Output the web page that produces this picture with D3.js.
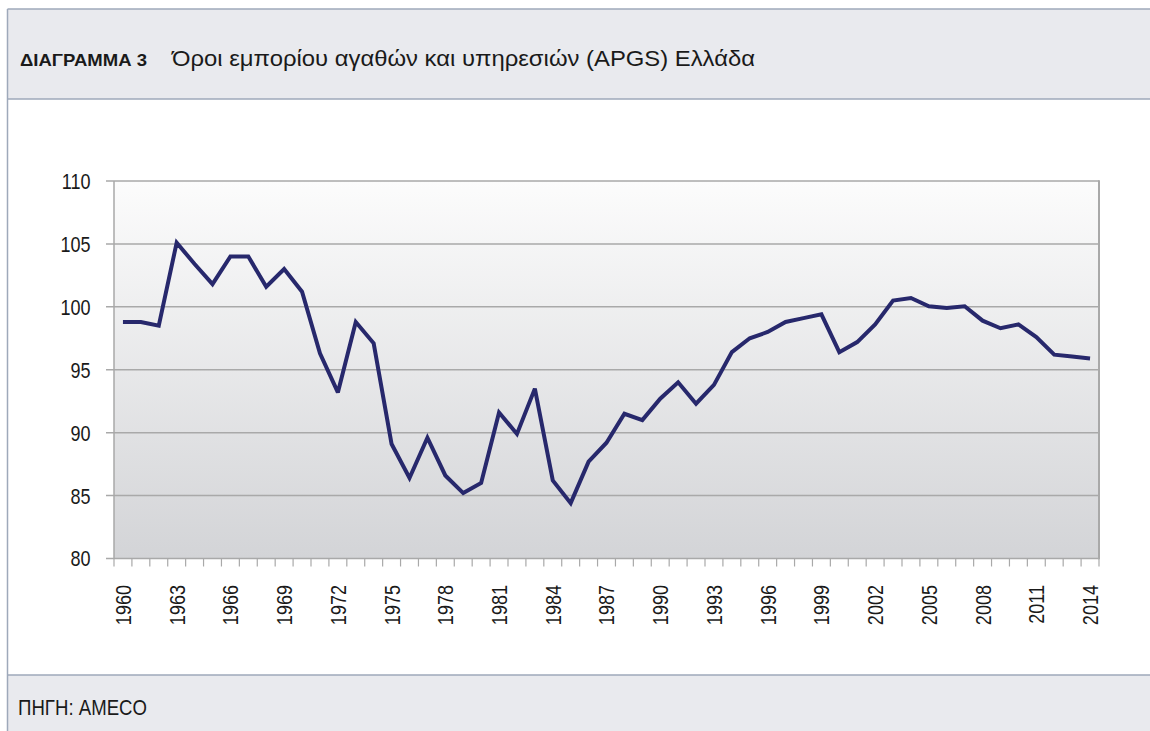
<!DOCTYPE html>
<html>
<head>
<meta charset="utf-8">
<script src="https://cdn.jsdelivr.net/npm/d3@7"></script>
<style>
  html, body { margin: 0; padding: 0; background: #ffffff; }
  svg { display: block; }
  text { font-family: "Liberation Sans", Arial, sans-serif; fill: #1a1a1a; }
</style>
</head>
<body>
<svg id="chart" width="1150" height="731"></svg>
<script>
const years = d3.range(1960, 2015);
const values = [
  98.8, 98.8, 98.5, 105.1, 103.4, 101.8, 104.0, 104.0, 101.6, 103.0,
  101.2, 96.3, 93.2, 98.8, 97.1, 89.1, 86.4, 89.6, 86.6, 85.2,
  86.0, 91.6, 89.9, 93.5, 86.2, 84.4, 87.7, 89.2, 91.5, 91.0,
  92.7, 94.0, 92.3, 93.8, 96.4, 97.5, 98.0, 98.8, 99.1, 99.4,
  96.4, 97.2, 98.6, 100.5, 100.7, 100.05, 99.9, 100.05, 98.9, 98.3,
  98.6, 97.6, 96.2, 96.05, 95.9
];
const yTicks = [80, 85, 90, 95, 100, 105, 110];
const labelYears = years.filter(y => (y - 1960) % 3 === 0);
const titleBold = "ΔΙΑΓΡΑΜΜΑ 3";
const titleText = "Όροι εμπορίου αγαθών και υπηρεσιών (APGS) Ελλάδα";
const sourceText = "ΠΗΓΗ: AMECO";

(function () {
const svg = d3.select("#chart");
const W = 1150, H = 731;
const narrow = 0.82;

// Header / footer panels
const frameX = 7.5;
svg.append("rect").attr("x", frameX).attr("y", 9).attr("width", W - frameX).attr("height", 90)
  .attr("fill", "#e9eaee");
svg.append("line").attr("x1", frameX).attr("x2", W).attr("y1", 9).attr("y2", 9)
  .attr("stroke", "#9ea9ba").attr("stroke-width", 1.5);
svg.append("line").attr("x1", frameX).attr("x2", W).attr("y1", 99).attr("y2", 99)
  .attr("stroke", "#9ea9ba").attr("stroke-width", 1.5);
svg.append("rect").attr("x", frameX).attr("y", 675).attr("width", W - frameX).attr("height", H - 675)
  .attr("fill", "#e9eaee");
svg.append("line").attr("x1", frameX).attr("x2", W).attr("y1", 675).attr("y2", 675)
  .attr("stroke", "#9ea9ba").attr("stroke-width", 1.5);
svg.append("line").attr("x1", frameX).attr("x2", frameX).attr("y1", 9).attr("y2", H)
  .attr("stroke", "#9ea9ba").attr("stroke-width", 1.5);

svg.append("text").attr("x", 20).attr("y", 66).attr("font-size", 16.5).attr("font-weight", "bold")
  .attr("textLength", 127).attr("lengthAdjust", "spacingAndGlyphs").text(titleBold);
svg.append("text").attr("x", 172).attr("y", 66).attr("font-size", 22)
  .attr("textLength", 583).attr("lengthAdjust", "spacingAndGlyphs").text(titleText);
svg.append("text").attr("x", 18).attr("y", 715).attr("font-size", 21.5)
  .attr("textLength", 129).attr("lengthAdjust", "spacingAndGlyphs").text(sourceText);

// Plot
const pLeft = 114, pRight = 1099, pTop = 181, pBottom = 558.5;
const x = d3.scaleBand().domain(years).range([pLeft, pRight]);
const y = d3.scaleLinear().domain([80, 110]).range([pBottom, pTop]);

const defs = svg.append("defs");
const grad = defs.append("linearGradient").attr("id", "bg").attr("x1", 0).attr("x2", 0).attr("y1", 0).attr("y2", 1);
grad.append("stop").attr("offset", "0%").attr("stop-color", "#fcfcfc");
grad.append("stop").attr("offset", "100%").attr("stop-color", "#d3d4d7");

svg.append("rect").attr("x", pLeft).attr("y", pTop).attr("width", pRight - pLeft).attr("height", pBottom - pTop)
  .attr("fill", "url(#bg)");

// gridlines
svg.append("g").selectAll("line").data(yTicks).join("line")
  .attr("x1", pLeft - 8).attr("x2", pRight)
  .attr("y1", d => y(d)).attr("y2", d => y(d))
  .attr("stroke", "#a9a9a9").attr("stroke-width", 1.5);

// y labels
svg.append("g").selectAll("text").data(yTicks).join("text")
  .attr("transform", d => `translate(90.5,${y(d)}) scale(${narrow},1)`)
  .attr("dy", "0.36em").attr("text-anchor", "end").attr("font-size", 22).text(d => d);

// left axis & right border
svg.append("line").attr("x1", pLeft).attr("x2", pLeft).attr("y1", pTop).attr("y2", pBottom)
  .attr("stroke", "#a9a9a9").attr("stroke-width", 1.5);
svg.append("line").attr("x1", pRight).attr("x2", pRight).attr("y1", pTop - 0.75).attr("y2", pBottom + 0.75)
  .attr("stroke", "#a9a9a9").attr("stroke-width", 2);

// x axis ticks at category boundaries
const boundaries = years.map(d => x(d)).concat([pRight]);
svg.append("g").selectAll("line").data(boundaries).join("line")
  .attr("x1", d => d).attr("x2", d => d)
  .attr("y1", pBottom).attr("y2", pBottom + 8)
  .attr("stroke", "#a9a9a9").attr("stroke-width", 1.2);

// x labels
svg.append("g").selectAll("text").data(labelYears).join("text")
  .attr("transform", d => `translate(${x(d) + x.bandwidth() / 2},585) rotate(-90) scale(${narrow},1)`)
  .attr("dy", "0.36em").attr("text-anchor", "end").attr("font-size", 22).text(d => d);

// line
const line = d3.line().x((d, i) => x(years[i]) + x.bandwidth() / 2).y(d => y(d));
svg.append("path").datum(values).attr("d", line)
  .attr("fill", "none").attr("stroke", "#27286c").attr("stroke-width", 4)
  .attr("stroke-linejoin", "miter").attr("stroke-miterlimit", 3);
})();
</script>
</body>
</html>
